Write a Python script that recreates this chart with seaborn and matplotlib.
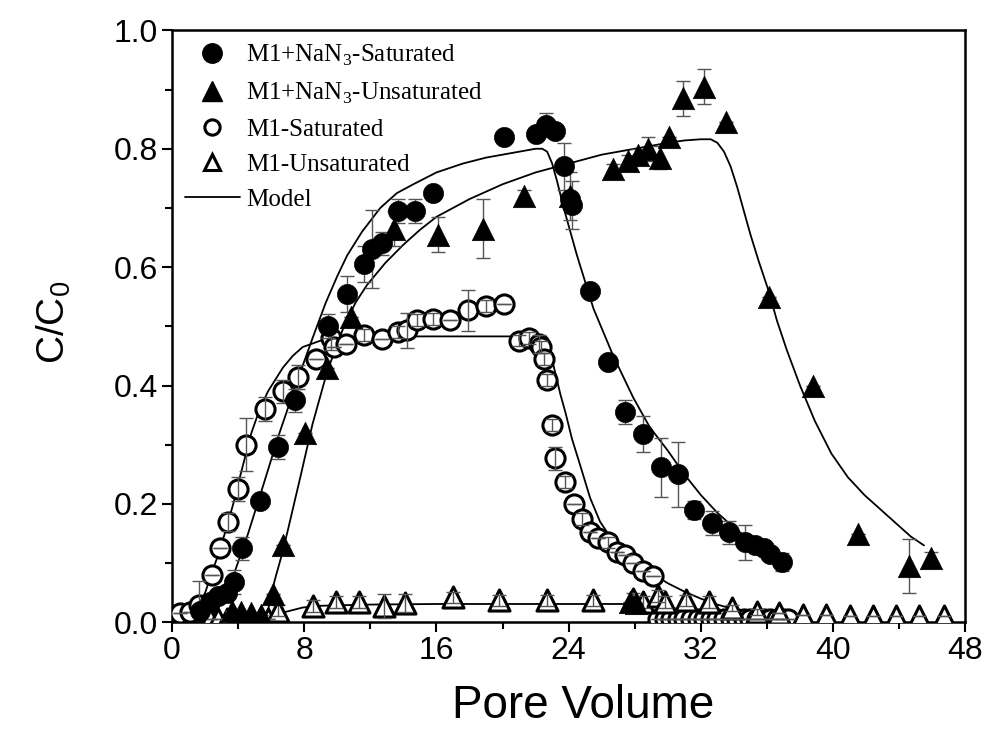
import numpy as np
import pandas as pd
import matplotlib
matplotlib.use("Agg")
import matplotlib.pyplot as plt
from matplotlib.lines import Line2D
import seaborn as sns

# M1+NaN3 - saturated (filled circles)
nan3_sat_x = [1.7, 2.3, 2.8, 3.3, 3.75, 4.25, 5.3, 6.4, 7.45, 9.45, 10.6, 11.6, 12.1, 12.7, 13.7, 14.7,
              15.8, 20.1, 22.0, 22.6, 23.2, 23.7, 24.1, 24.2, 25.3, 26.4, 27.4, 28.5, 29.6, 30.6, 31.6,
              32.7, 33.7, 34.7, 35.3, 35.8, 36.2, 36.9]
nan3_sat_y = [0.02, 0.035, 0.045, 0.05, 0.068, 0.125, 0.205, 0.296, 0.375, 0.50, 0.555, 0.605, 0.63, 0.64,
              0.695, 0.695, 0.725, 0.82, 0.825, 0.84, 0.83, 0.77, 0.715, 0.705, 0.56, 0.44, 0.355, 0.318,
              0.262, 0.25, 0.19, 0.168, 0.152, 0.135, 0.13, 0.125, 0.115, 0.102]
nan3_sat_err = [0.0, 0.0, 0.01, 0.0, 0.02, 0.02, 0.0, 0.02, 0.02, 0.02, 0.03, 0.03, 0.066, 0.02, 0.02, 0.02,
                0.0, 0.0, 0.01, 0.02, 0.01, 0.04, 0.0, 0.04, 0.0, 0.0, 0.02, 0.03, 0.05, 0.055, 0.015,
                0.02, 0.02, 0.03, 0.0, 0.0, 0.0, 0.015]

# M1+NaN3 - unsaturated (filled triangles)
nan3_unsat_x = [3.6, 4.2, 4.8, 5.4, 6.1, 6.7, 8.05, 9.4, 10.8, 13.4, 16.1, 18.8, 21.3, 24.1, 26.7, 27.6,
                27.7, 28.1, 28.2, 28.8, 29.5, 30.1, 30.9, 32.2, 33.5, 36.1, 38.8, 41.5, 44.6, 45.9]
nan3_unsat_y = [0.02, 0.018, 0.015, 0.012, 0.048, 0.13, 0.32, 0.43, 0.515, 0.665, 0.655, 0.665, 0.72, 0.72,
                0.765, 0.78, 0.035, 0.033, 0.79, 0.80, 0.785, 0.82, 0.885, 0.905, 0.845, 0.55, 0.40, 0.15,
                0.095, 0.108]
nan3_unsat_err = [0.0, 0.0, 0.0, 0.0, 0.0, 0.0, 0.0, 0.0, 0.0, 0.03, 0.03, 0.05, 0.01, 0.04, 0.01, 0.01,
                  0.0, 0.0, 0.01, 0.02, 0.02, 0.0, 0.03, 0.03, 0.0, 0.0, 0.0, 0.0, 0.045, 0.01]

# M1 - saturated (open circles)
m1_sat_x = [0.5, 1.1, 1.6, 2.4, 2.9, 3.4, 4.0, 4.5, 5.6, 6.7, 7.6, 8.7, 9.6, 9.8, 10.5, 11.6, 12.7, 13.7,
            14.2, 14.8, 15.8, 16.8, 17.9, 19.0, 20.1, 21.0, 21.6, 22.2, 22.3, 22.5, 22.7, 23.0, 23.2,
            23.8, 24.3, 24.8, 25.3, 25.8, 26.4, 26.9, 27.4, 27.9, 28.5, 29.1,
            29.4, 29.8, 30.2, 30.6, 31.0, 31.4, 31.8, 32.2, 32.6, 33.0, 33.4, 33.8, 34.2, 34.6,
            35.0, 35.4, 35.8, 36.2, 36.6, 37.0, 37.3]
m1_sat_y = [0.015, 0.017, 0.03, 0.08, 0.125, 0.17, 0.225, 0.30, 0.36, 0.39, 0.415, 0.445, 0.48, 0.465,
            0.47, 0.485, 0.478, 0.49, 0.493, 0.51, 0.513, 0.51, 0.527, 0.535, 0.538, 0.476, 0.48, 0.47,
            0.465, 0.445, 0.41, 0.333, 0.277, 0.237, 0.20, 0.174, 0.152, 0.143, 0.135, 0.118, 0.113,
            0.10, 0.086, 0.078,
            0.005, 0.005, 0.005, 0.005, 0.005, 0.005, 0.005, 0.005, 0.005, 0.005, 0.005, 0.005, 0.005,
            0.005, 0.005, 0.005, 0.005, 0.005, 0.005, 0.005, 0.005]
m1_sat_err = [0.0, 0.0, 0.04, 0.0, 0.0, 0.015, 0.02, 0.045, 0.02, 0.02, 0.02, 0.0, 0.02, 0.0, 0.0, 0.01,
              0.0, 0.01, 0.03, 0.01, 0.01, 0.0, 0.035, 0.01, 0.0, 0.01, 0.01, 0.015, 0.01, 0.01, 0.01,
              0.01, 0.02, 0.01, 0.0, 0.01, 0.0, 0.0, 0.01, 0.0, 0.0, 0.0, 0.0, 0.0,
              0.0, 0.0, 0.0, 0.0, 0.0, 0.0, 0.0, 0.0, 0.0, 0.0, 0.0, 0.0, 0.0, 0.0, 0.0, 0.0, 0.0, 0.0,
              0.0, 0.0, 0.0]

# M1 - unsaturated (open triangles)
m1_unsat_x = [2.3, 2.8, 3.3, 3.8, 4.3, 4.8, 5.3, 5.8, 6.4, 8.5, 9.9, 11.3, 12.8, 14.1, 17.0, 19.8, 22.7,
              25.5, 27.9, 28.5, 29.4, 29.8, 31.1, 32.5, 33.9, 35.4, 36.7, 38.2, 39.6, 41.0, 42.4, 43.8,
              45.2, 46.7]
m1_unsat_y = [0.005, 0.005, 0.005, 0.005, 0.005, 0.005, 0.005, 0.005, 0.02, 0.028, 0.034, 0.034, 0.028,
              0.033, 0.042, 0.037, 0.037, 0.037, 0.04, 0.034, 0.045, 0.034, 0.037, 0.034, 0.024, 0.017,
              0.015, 0.012, 0.012, 0.01, 0.01, 0.01, 0.01, 0.01]
m1_unsat_err = [0.0, 0.0, 0.0, 0.0, 0.0, 0.0, 0.0, 0.0, 0.01, 0.01, 0.01, 0.01, 0.02, 0.015, 0.01, 0.01,
                0.01, 0.01, 0.01, 0.01, 0.01, 0.01, 0.01, 0.01, 0.005, 0.005, 0.0, 0.0, 0.0, 0.0, 0.0,
                0.0, 0.0, 0.0]

# model curves
mod_nan3_sat_x = [1.7, 2.3, 2.8, 3.2, 3.6, 4.1, 4.6, 5.5, 6.5, 7.6, 8.5, 9.3, 10.0, 10.6, 11.5, 12.6, 13.6,
                  14.6, 16.0, 17.6, 19.0, 20.0, 21.0, 22.0, 22.4, 22.7, 23.0, 23.3, 23.7, 24.1, 24.5, 25.0,
                  25.5, 26.1, 26.7, 27.3, 27.9, 28.9, 30.0, 31.0, 32.0, 33.0, 34.0, 34.7]
mod_nan3_sat_y = [0.0, 0.008, 0.025, 0.045, 0.07, 0.11, 0.15, 0.23, 0.32, 0.41, 0.48, 0.54, 0.585, 0.62,
                  0.66, 0.70, 0.725, 0.74, 0.76, 0.775, 0.785, 0.79, 0.795, 0.80, 0.80, 0.795, 0.775, 0.745,
                  0.70, 0.66, 0.62, 0.575, 0.53, 0.49, 0.45, 0.415, 0.38, 0.33, 0.29, 0.25, 0.215, 0.185,
                  0.16, 0.145]
mod_nan3_unsat_x = [5.4, 5.8, 6.2, 6.6, 7.0, 7.8, 8.5, 9.4, 10.4, 11.1, 11.8, 12.9, 14.0, 15.0, 16.0, 18.0,
                    20.0, 22.0, 24.0, 26.0, 28.0, 30.0, 31.0, 32.0, 32.6, 33.0, 33.4, 33.8, 34.2, 34.6,
                    35.0, 35.5, 36.1, 36.6, 37.2, 38.0, 38.9, 39.9, 40.9, 41.9, 42.9, 43.9, 44.7, 45.5]
mod_nan3_unsat_y = [0.0, 0.02, 0.07, 0.11, 0.155, 0.25, 0.335, 0.425, 0.50, 0.54, 0.57, 0.607, 0.638,
                    0.663, 0.685, 0.715, 0.74, 0.76, 0.775, 0.79, 0.80, 0.81, 0.814, 0.816, 0.816, 0.81,
                    0.795, 0.77, 0.735, 0.695, 0.655, 0.61, 0.56, 0.51, 0.46, 0.40, 0.34, 0.285, 0.245,
                    0.215, 0.19, 0.165, 0.145, 0.13]
mod_m1_sat_x = [0.0, 1.0, 1.6, 2.0, 2.3, 2.8, 3.3, 3.7, 4.1, 4.8, 5.3, 5.8, 6.7, 7.3, 7.9, 9.0, 10.5, 15.0,
                20.0, 22.3, 22.6, 22.9, 23.2, 23.5, 23.8, 24.2, 24.7, 25.3, 25.9, 26.5, 27.2, 27.8, 28.4,
                29.2, 30.0, 31.0, 32.0, 33.0, 34.0, 35.6, 37.5]
mod_m1_sat_y = [0.0, 0.008, 0.03, 0.05, 0.075, 0.115, 0.16, 0.20, 0.245, 0.32, 0.36, 0.39, 0.43, 0.45,
                0.465, 0.476, 0.482, 0.483, 0.483, 0.483, 0.475, 0.455, 0.42, 0.385, 0.355, 0.31, 0.265,
                0.21, 0.17, 0.145, 0.125, 0.11, 0.095, 0.08, 0.066, 0.052, 0.04, 0.03, 0.022, 0.013, 0.007]
mod_m1_unsat_x = [6.0, 6.5, 7.2, 7.9, 9.0, 12.0, 16.0, 20.0, 24.0, 28.0, 29.0, 30.0, 31.0, 32.6, 34.0,
                  35.6, 37.0]
mod_m1_unsat_y = [0.0, 0.015, 0.02, 0.025, 0.028, 0.03, 0.031, 0.031, 0.031, 0.031, 0.03, 0.026, 0.02,
                  0.012, 0.009, 0.006, 0.004]

sns.set_style("ticks")
plt.rcParams['font.family'] = ['Liberation Sans', 'DejaVu Sans']
plt.rcParams['text.color'] = 'black'
plt.rcParams['axes.labelcolor'] = 'black'
plt.rcParams['xtick.color'] = 'black'
plt.rcParams['ytick.color'] = 'black'
plt.rcParams['axes.edgecolor'] = 'black'

fig = plt.figure(figsize=(9.89, 7.4), dpi=100)
ax = fig.add_axes([0.174, 0.159, 0.802, 0.8])

# model lines
for mx, my in [(mod_nan3_sat_x, mod_nan3_sat_y), (mod_nan3_unsat_x, mod_nan3_unsat_y),
               (mod_m1_sat_x, mod_m1_sat_y), (mod_m1_unsat_x, mod_m1_unsat_y)]:
    sns.lineplot(x=mx, y=my, sort=False, estimator=None, color='black', linewidth=1.3, ax=ax, zorder=2)

# open markers under the error bars, filled ones above
sns.scatterplot(x=m1_sat_x, y=m1_sat_y, marker='o', s=190, color='white', edgecolor='black',
                linewidth=2.2, ax=ax, zorder=3)
sns.scatterplot(x=m1_unsat_x, y=m1_unsat_y, marker='^', s=230, color='white', edgecolor='black',
                linewidth=2.2, ax=ax, zorder=3)

for xs, ys, es in [(nan3_sat_x, nan3_sat_y, nan3_sat_err), (nan3_unsat_x, nan3_unsat_y, nan3_unsat_err),
                   (m1_sat_x, m1_sat_y, m1_sat_err), (m1_unsat_x, m1_unsat_y, m1_unsat_err)]:
    ax.errorbar(xs, ys, yerr=es, fmt='none', ecolor='#555555', elinewidth=1, capsize=5, capthick=1,
                zorder=4)

sns.scatterplot(x=nan3_sat_x, y=nan3_sat_y, marker='o', s=210, color='black', edgecolor='black',
                linewidth=0.5, ax=ax, zorder=5)
sns.scatterplot(x=nan3_unsat_x, y=nan3_unsat_y, marker='^', s=260, color='black', edgecolor='black',
                linewidth=0.5, ax=ax, zorder=5)

ax.set_xlim(0, 48)
ax.set_ylim(0, 1.0)
ax.set_xticks(np.arange(0, 49, 8))
ax.set_xticks(np.arange(4, 48, 8), minor=True)
ax.set_yticks(np.arange(0, 1.01, 0.2))
ax.set_yticks(np.arange(0.1, 1.0, 0.2), minor=True)
ax.set_yticklabels(['0.0', '0.2', '0.4', '0.6', '0.8', '1.0'])
ax.tick_params(which='major', direction='out', length=7, width=1.5, labelsize=23, pad=3)
ax.tick_params(which='minor', direction='out', length=5, width=1.5)
for s in ['top', 'right', 'left', 'bottom']:
    ax.spines[s].set_visible(True)
    ax.spines[s].set_linewidth(1.8)

ax.set_xlabel('Pore Volume', fontsize=33)
ax.set_ylabel('C/C$_\\mathregular{0}$', fontsize=28)
ax.xaxis.set_label_coords(0.518, -0.105)
ax.yaxis.set_label_coords(-0.125, 0.507)

handles = [
    Line2D([], [], ls='none', marker='o', ms=14, mfc='black', mec='black'),
    Line2D([], [], ls='none', marker='^', ms=15, mfc='black', mec='black'),
    Line2D([], [], ls='none', marker='o', ms=11, mfc='white', mec='black', mew=2.2),
    Line2D([], [], ls='none', marker='^', ms=12, mfc='white', mec='black', mew=2.2),
    Line2D([], [], color='black', lw=1.3),
]
labels = ['M1+NaN$_\\mathregular{3}$-Saturated', 'M1+NaN$_\\mathregular{3}$-Unsaturated',
          'M1-Saturated', 'M1-Unsaturated', 'Model']
ax.legend(handles, labels, loc='upper left', bbox_to_anchor=(0.0, 1.0), frameon=False,
          prop={'family': 'Liberation Serif', 'size': 18}, handlelength=2.2, handletextpad=0.25,
          borderaxespad=0.2, borderpad=0.3, labelspacing=0.5)

fig.savefig('out.png', dpi=100)
